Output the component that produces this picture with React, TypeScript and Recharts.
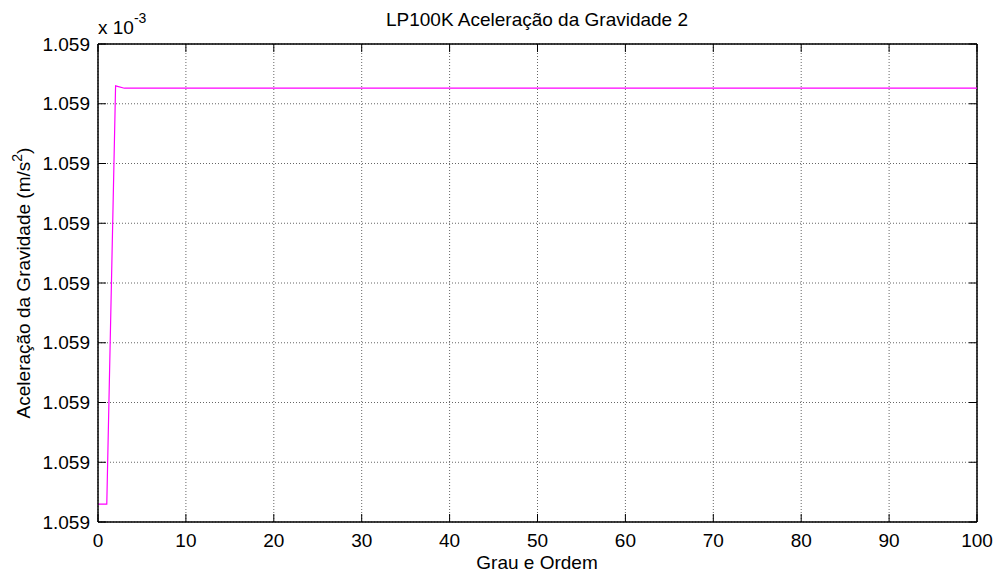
import { CartesianGrid, Line, LineChart, ReferenceLine, XAxis, YAxis } from 'recharts';

// degree/order vs. gravity acceleration (values in units of 1e-3)
const degrees = [0, 1, 2, 3, 100];
const gravity = [1.0590015, 1.0590015, 1.0590365, 1.0590363, 1.0590363];

const xTicks = [0, 10, 20, 30, 40, 50, 60, 70, 80, 90, 100];
const yTicks = [1.059, 1.059005, 1.05901, 1.059015, 1.05902, 1.059025, 1.05903, 1.059035, 1.05904];

const data = degrees.map((d, i) => ({ d, g: gravity[i] }));

const FONT = '"Liberation Sans", Arial, Helvetica, sans-serif';
const W = 993;
const H = 574;
// plot box edges
const LEFT = 98;
const RIGHT = 977;
const TOP = 44;
const BOTTOM = 522;
const TICK = 8;

// matlab-style ticks: pointing inward, repeated on the opposite side of the box
const XTick = (props: any) => {
  const { x, y, payload } = props;
  const cx = payload.coordinate;
  return (
    <g>
      <line x1={cx} x2={cx} y1={BOTTOM} y2={BOTTOM - TICK} stroke="#000" />
      <line x1={cx} x2={cx} y1={TOP} y2={TOP + TICK} stroke="#000" />
      <text x={x} y={y} dy="0.71em" textAnchor="middle" fontSize={19} fontFamily={FONT} fill="#000">
        {payload.value}
      </text>
    </g>
  );
};

const YTick = (props: any) => {
  const { x, y, payload } = props;
  const cy = payload.coordinate;
  return (
    <g>
      <line x1={LEFT} x2={LEFT + TICK} y1={cy} y2={cy} stroke="#000" />
      <line x1={RIGHT} x2={RIGHT - TICK} y1={cy} y2={cy} stroke="#000" />
      <text x={x} y={y} dy="0.355em" textAnchor="end" fontSize={19} fontFamily={FONT} fill="#000">
        {Number(payload.value).toFixed(3)}
      </text>
    </g>
  );
};

export default function App() {
  return (
    <div style={{ position: 'absolute', left: 0, top: 0, width: W, height: H, background: '#fff' }}>
      <LineChart
        width={W}
        height={H}
        data={data}
        margin={{ top: TOP, right: W - RIGHT, bottom: 0, left: 0 }}
      >
        <CartesianGrid stroke="#666" strokeDasharray="1 2" strokeWidth={1} />
        <XAxis
          dataKey="d"
          type="number"
          domain={[0, 100]}
          ticks={xTicks}
          height={H - BOTTOM}
          tickSize={0}
          tickMargin={12}
          tick={<XTick />}
          tickLine={false}
          axisLine={{ stroke: '#000', strokeWidth: 1.5 }}
          allowDataOverflow
        />
        <YAxis
          type="number"
          domain={[1.059, 1.05904]}
          ticks={yTicks}
          width={LEFT}
          tickSize={0}
          tickMargin={8}
          tick={<YTick />}
          tickLine={false}
          axisLine={{ stroke: '#000', strokeWidth: 1.5 }}
          allowDataOverflow
        />
        <ReferenceLine x={100} stroke="#000" strokeWidth={1.5} />
        <ReferenceLine y={1.05904} stroke="#000" strokeWidth={1.5} />
        <Line
          dataKey="g"
          type="linear"
          stroke="#ff00ff"
          strokeWidth={1.2}
          dot={false}
          isAnimationActive={false}
        />
      </LineChart>
      <svg
        width={W}
        height={H}
        style={{ position: 'absolute', left: 0, top: 0, pointerEvents: 'none' }}
        fontFamily={FONT}
        fontSize={19}
      >
        <text x={537} y={26} textAnchor="middle">
          LP100K Aceleração da Gravidade 2
        </text>
        <text x={98} y={34}>
          x 10
          <tspan fontSize={14} dy={-11}>
            -3
          </tspan>
        </text>
        <text x={537} y={569} textAnchor="middle">
          Grau e Ordem
        </text>
        <text x={30} y={283} textAnchor="middle" transform="rotate(-90 30 283)">
          Aceleração da Gravidade (m/s
          <tspan fontSize={14} dy={-8}>
            2
          </tspan>
          <tspan dy={8}>)</tspan>
        </text>
      </svg>
    </div>
  );
}
